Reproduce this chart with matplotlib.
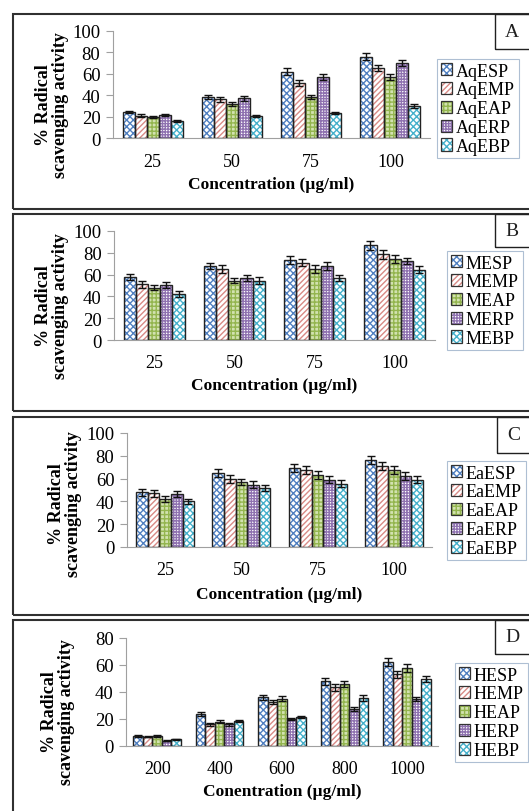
import numpy as np
import matplotlib
matplotlib.use("Agg")
import matplotlib.pyplot as plt
from matplotlib.patches import Rectangle
from matplotlib.legend_handler import HandlerTuple

plt.rcParams['font.family'] = ['Liberation Serif', 'DejaVu Serif']
plt.rcParams['hatch.linewidth'] = 1.0

W, H = 529, 812

# ---- data ----
conc_abc = ['25', '50', '75', '100']
conc_d = ['200', '400', '600', '800', '1000']

names_a = ['AqESP', 'AqEMP', 'AqEAP', 'AqERP', 'AqEBP']
vals_a = [[24, 38, 62, 76],
          [21, 36, 51.5, 65.5],
          [20, 32, 38.5, 57],
          [21.5, 37, 57, 70],
          [16, 20.5, 23, 30]]
errs_a = [[1, 2, 3, 3.5],
          [1, 2, 3, 3],
          [1, 2, 2, 3],
          [1, 2, 3, 3],
          [1, 1, 1, 1.5]]

names_b = ['MESP', 'MEMP', 'MEAP', 'MERP', 'MEBP']
vals_b = [[58, 68, 73.5, 87],
          [51, 65, 71, 78.5],
          [48, 54.5, 65, 74.5],
          [50.5, 57, 68, 72.5],
          [42, 54.5, 57, 64.5]]
errs_b = [[3, 3, 4, 4],
          [3, 3.5, 3.5, 4],
          [2.5, 2.5, 3.5, 3.5],
          [3, 3, 3.5, 3],
          [2.5, 3, 2.5, 3]]

names_c = ['EaESP', 'EaEMP', 'EaEAP', 'EaERP', 'EaEBP']
vals_c = [[48, 64.5, 69.5, 76],
          [47, 60, 67.5, 71],
          [42, 57, 63, 67.5],
          [46.5, 54.5, 59, 62],
          [40, 52, 55.5, 59]]
errs_c = [[3, 3.5, 3.5, 3.5],
          [3, 3.5, 3.5, 3.5],
          [2.5, 3, 3.5, 3.5],
          [3, 3, 3, 3.5],
          [2, 2.5, 3, 3]]

names_d = ['HESP', 'HEMP', 'HEAP', 'HERP', 'HEBP']
vals_d = [[7.5, 23.5, 36, 48, 62],
          [7, 16, 32.5, 43.5, 53],
          [7.5, 18, 35, 46, 57.5],
          [4, 16, 20, 27.5, 34.5],
          [5, 18.5, 21.5, 35.5, 49.5]]
errs_d = [[0.5, 1.5, 2, 2.5, 3],
          [0.5, 1, 1.5, 2.5, 2.5],
          [0.5, 1, 2, 2.5, 3],
          [0.3, 1, 1, 1.5, 1.5],
          [0.3, 1, 1, 2, 2]]

# face colour, hatch colour, hatch
styles = [('#ffffff', '#4f7fc0', 'xxxxx'),
          ('#ffffff', '#d88a86', '//////'),
          ('#d2e2b0', '#93b54e', '++++'),
          ('#ffffff', '#8f72b0', '++++++'),
          ('#ffffff', '#45b0cb', 'xxxxx')]


def px(x0, y0, x1, y1):
    return [x0 / W, 1 - y1 / H, (x1 - x0) / W, (y1 - y0) / H]


fig = plt.figure(figsize=(W / 100, H / 100), dpi=100)

# pixel layout of each panel
panels = [
    dict(box=(13, 15, 540, 210), ax=(113, 32, 430, 139), leg=(437, 60), lab=(495, 15, 540, 50),
         ylab=(52, 105), xlab=185, tpad=11,
         letter='A', cats=conc_abc, names=names_a, vals=vals_a, errs=errs_a, ymax=100,
         xlabel='Concentration (µg/ml)'),
    dict(box=(13, 215, 540, 412), ax=(114, 232, 435, 341), leg=(447, 252), lab=(495, 215, 540, 248),
         ylab=(52, 306), xlab=386, tpad=10,
         letter='B', cats=conc_abc, names=names_b, vals=vals_b, errs=errs_b, ymax=100,
         xlabel='Concentration (µg/ml)'),
    dict(box=(13, 418, 540, 616), ax=(127, 434, 432, 548), leg=(447, 462), lab=(497, 418, 540, 454),
         ylab=(65, 504), xlab=595, tpad=10,
         letter='C', cats=conc_abc, names=names_c, vals=vals_c, errs=errs_c, ymax=100,
         xlabel='Concentration (µg/ml)'),
    dict(box=(13, 621, 540, 830), ax=(126, 639, 438, 747), leg=(455, 664), lab=(495, 621, 540, 655),
         ylab=(58, 712), xlab=792, tpad=10,
         letter='D', cats=conc_d, names=names_d, vals=vals_d, errs=errs_d, ymax=80,
         xlabel='Conentration (µg/ml)'),
]

for p in panels:
    x0, y0, x1, y1 = p['box']
    fig.patches.append(Rectangle((x0 / W, 1 - y1 / H), (x1 - x0) / W, (y1 - y0) / H,
                                 transform=fig.transFigure, fill=False,
                                 edgecolor='#303030', linewidth=1.5))
    lx0, ly0, lx1, ly1 = p['lab']
    fig.patches.append(Rectangle((lx0 / W, 1 - ly1 / H), (lx1 - lx0) / W, (ly1 - ly0) / H,
                                 transform=fig.transFigure, fill=False,
                                 edgecolor='#202020', linewidth=1.0))
    fig.text((lx0 + 17) / W, 1 - (ly0 + ly1) / 2 / H, p['letter'], fontsize=14,
             ha='center', va='center', color='#202020')

    ax = fig.add_axes(px(*p['ax']))
    n = len(p['cats'])
    x = np.arange(n)
    bw = 0.152
    handles = []
    for i, (name, v, e) in enumerate(zip(p['names'], p['vals'], p['errs'])):
        fc, hc, hatch = styles[i]
        pos = x + (i - 2) * bw
        ax.bar(pos, v, bw, color=fc, edgecolor=hc, hatch=hatch, linewidth=0, zorder=2)
        ax.bar(pos, v, bw, fill=False, edgecolor='#222222', linewidth=1.0, zorder=3)
        ax.errorbar(pos, v, yerr=e, fmt='none', ecolor='#111111', elinewidth=1.0,
                    capsize=3, capthick=1.0, zorder=4)
        h_fill = Rectangle((0, 0), 1, 1, facecolor=fc, edgecolor=hc, hatch=hatch, linewidth=0)
        h_line = Rectangle((0, 0), 1, 1, fill=False, edgecolor='#333333', linewidth=0.9)
        handles.append((h_fill, h_line))
    ax.set_xlim(-0.5, n - 0.5)
    ax.set_ylim(0, p['ymax'])
    ax.set_yticks(np.arange(0, p['ymax'] + 1, 20))
    ax.set_xticks(x)
    ax.set_xticklabels(p['cats'])
    for s in ['top', 'right']:
        ax.spines[s].set_visible(False)
    ax.spines['left'].set_color('#a0a0a0')
    ax.spines['bottom'].set_color('#a0a0a0')
    ax.tick_params(axis='y', length=5, color='#a0a0a0', labelsize=13.5, pad=4)
    ax.tick_params(axis='x', length=0, labelsize=13, pad=p['tpad'])
    ax.patch.set_alpha(0)

    fig.text(p['ax'][0] / W + (p['ax'][2] - p['ax'][0]) / 2 / W, 1 - p['xlab'] / H,
             p['xlabel'], fontsize=12.5, fontweight='bold', ha='center', va='center')
    fig.text(p['ylab'][0] / W, 1 - p['ylab'][1] / H, '% Radical\nscavenging activity',
             fontsize=13, fontweight='bold', rotation=90, ha='center', va='center',
             linespacing=0.95, multialignment='center')

    leg = ax.legend(handles, p['names'], loc='upper left',
                    bbox_to_anchor=(p['leg'][0] / W, 1 - p['leg'][1] / H),
                    bbox_transform=fig.transFigure, fontsize=13, frameon=True,
                    fancybox=False, edgecolor='#9ab0c8', handlelength=0.65,
                    handleheight=0.65, handletextpad=0.2, labelspacing=0.1,
                    borderpad=0.2, borderaxespad=0,
                    handler_map={tuple: HandlerTuple(ndivide=1, pad=0)})
    leg.get_frame().set_linewidth(0.8)

fig.savefig('out.png', dpi=100, facecolor='white')
